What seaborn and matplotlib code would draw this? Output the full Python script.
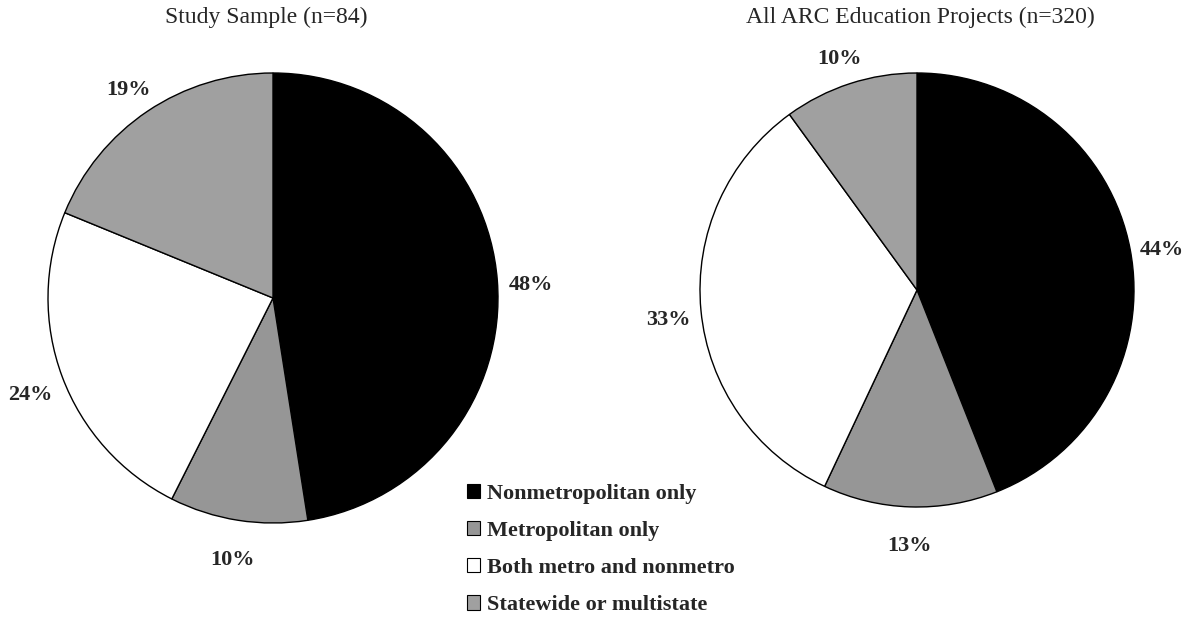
import matplotlib
matplotlib.use("Agg")
import numpy as np
import matplotlib.pyplot as plt
import matplotlib.patches as mpatches
import seaborn as sns

# Data
categories = ["Nonmetropolitan only", "Metropolitan only",
              "Both metro and nonmetro", "Statewide or multistate"]
study_sample = [48, 10, 24, 19]
all_projects = [44, 13, 33, 10]
colors = ["#000000", "#969696", "#ffffff", "#a0a0a0"]

sns.set_theme(style="white")
plt.rcParams["font.family"] = ["Liberation Serif", "DejaVu Serif"]

W, H = 1187, 640
fig = plt.figure(figsize=(W / 100, H / 100), dpi=100)

# axes placed in pixel coordinates (left, bottom, size)
ax1 = fig.add_axes([48 / W, (H - 523) / H, 450 / W, 450 / H])
ax2 = fig.add_axes([700 / W, (H - 507) / H, 434 / W, 434 / H])


def draw_pie(ax, values):
    wedges, _ = ax.pie(values, colors=colors, startangle=90, counterclock=False,
                       wedgeprops=dict(edgecolor="black", linewidth=1))
    for w in wedges:
        w.set_clip_on(False)
    total = sum(values)
    cum = 0
    for v in values:
        mid = 90 - 360 * (cum + v / 2) / total
        r = 1.15
        ax.text(r * np.cos(np.radians(mid)), r * np.sin(np.radians(mid)) - 0.03,
                f"{v}%", ha="center", va="center", fontsize=16, fontweight="bold")
        cum += v
    ax.set_xlim(-1, 1)
    ax.set_ylim(-1, 1)
    ax.set_aspect("equal")
    ax.axis("off")


draw_pie(ax1, study_sample)
draw_pie(ax2, all_projects)

fig.text(266 / W, 1 - 17 / H, "Study Sample (n=84)", ha="center", va="center", fontsize=17)
fig.text(920 / W, 1 - 17 / H, "All ARC Education Projects (n=320)", ha="center",
         va="center", fontsize=17)

handles = [mpatches.Patch(facecolor=c, edgecolor="black", linewidth=0.8) for c in colors]
fig.legend(handles, categories, loc="upper left", bbox_to_anchor=(447 / W, 1 - 464 / H),
           frameon=False, handlelength=0.6, handleheight=0.6, handletextpad=0.3,
           labelspacing=0.77, prop=dict(size=16, weight="bold"))

fig.savefig("out.png", dpi=100)
